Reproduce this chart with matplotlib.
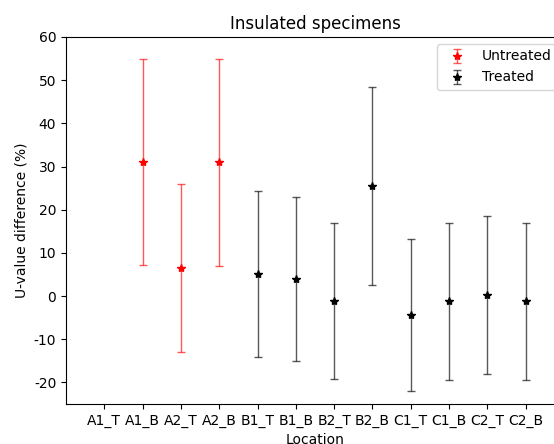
import matplotlib
matplotlib.use("Agg")
import matplotlib.pyplot as plt

plt.rcParams['axes.unicode_minus'] = False

categories = ["A1_T", "A1_B", "A2_T", "A2_B", "B1_T", "B1_B",
              "B2_T", "B2_B", "C1_T", "C1_B", "C2_T", "C2_B"]

untreated_loc = ["A1_B", "A2_T", "A2_B"]
untreated_val = [31.0, 6.5, 31.0]
untreated_err = [23.9, 19.4, 24.0]

treated_loc = ["B1_T", "B1_B", "B2_T", "B2_B", "C1_T", "C1_B", "C2_T", "C2_B"]
treated_val = [5.1, 4.0, -1.1, 25.5, -4.4, -1.2, 0.2, -1.2]
treated_err = [19.2, 19.0, 18.1, 22.9, 17.5, 18.2, 18.3, 18.2]

fig = plt.figure(figsize=(5.54, 4.44), dpi=100)
ax = fig.add_axes([66/554, 40/444, 498/554, 367/444])

xu = [categories.index(c) for c in untreated_loc]
xt = [categories.index(c) for c in treated_loc]

eb1 = ax.errorbar(xu, untreated_val, yerr=untreated_err, fmt='*', color='red',
                  ecolor=(1, 0, 0, 0.65), elinewidth=1, capsize=3, label='Untreated')
eb2 = ax.errorbar(xt, treated_val, yerr=treated_err, fmt='*', color='black',
                  ecolor=(0, 0, 0, 0.65), elinewidth=1, capsize=3, label='Treated')

ax.set_xticks(range(len(categories)))
ax.set_xticklabels(categories)
ax.set_xlim(-1, len(categories))
ax.set_ylim(-25, 60)
ax.set_yticks([-20, -10, 0, 10, 20, 30, 40, 50, 60])
ax.set_title("Insulated specimens")
ax.set_xlabel("Location")
ax.set_ylabel("U-value difference (%)")
ax.legend(loc='upper right')

fig.savefig("out.png", dpi=100)
